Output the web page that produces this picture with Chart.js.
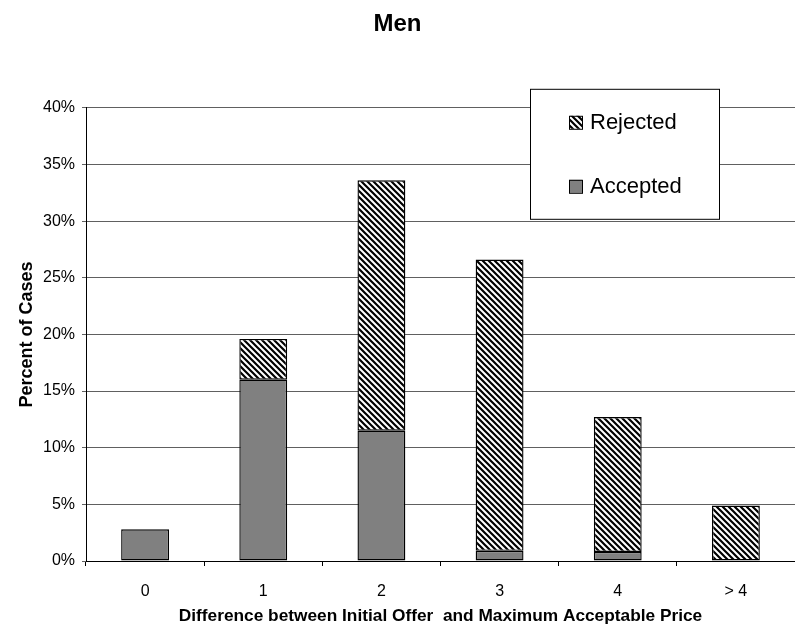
<!DOCTYPE html>
<html>
<head>
<meta charset="utf-8">
<script src="https://cdn.jsdelivr.net/npm/chart.js@4.4.0/dist/chart.umd.min.js"></script>
<style>
  html, body { margin: 0; padding: 0; background: #fff; overflow: hidden; }
  #wrap { width: 795px; height: 639px; }
</style>
</head>
<body>
<div id="wrap"><canvas id="chart" width="795" height="639"></canvas></div>
<script>
// categorias do eixo x e valores (em %) de cada serie
const categories = ['0', '1', '2', '3', '4', '> 4'];
const accepted = [2.8, 16.0, 11.5, 0.9, 0.8, null];
const rejected = [null, 3.6, 22.1, 25.7, 11.9, 4.9];
const yTicks = [0, 5, 10, 15, 20, 25, 30, 35, 40];

const sans = "'Liberation Sans', Arial, sans-serif";

// listras diagonais pretas e brancas para a serie "Rejected"
function makeHatch() {
    const size = 6;
    const c = document.createElement('canvas');
    c.width = size;
    c.height = size;
    const g = c.getContext('2d');
    g.fillStyle = '#fff';
    g.fillRect(0, 0, size, size);
    g.strokeStyle = '#000';
    g.lineWidth = 2.2;
    g.beginPath();
    g.moveTo(-1, -1); g.lineTo(size + 1, size + 1);
    g.moveTo(-1, size - 1); g.lineTo(1, size + 1);
    g.moveTo(size - 1, -1); g.lineTo(size + 1, 1);
    g.stroke();
    return g.createPattern(c, 'repeat');
}
const hatch = makeHatch();

// legenda desenhada a mao, dentro da area do grafico (como no Excel)
const boxLegend = {
    id: 'boxLegend',
    afterDatasetsDraw(chart) {
        const { ctx, chartArea } = chart;
        const x = chartArea.left + 444, y = chartArea.top - 19, w = 189, h = 130;
        ctx.save();
        ctx.fillStyle = '#fff';
        ctx.fillRect(x, y, w, h);
        ctx.strokeStyle = '#000';
        ctx.lineWidth = 1;
        ctx.strokeRect(x + 0.5, y + 0.5, w, h);
        const items = [
            { label: 'Rejected', fill: hatch, cy: y + 33 },
            { label: 'Accepted', fill: '#808080', cy: y + 97 }
        ];
        ctx.font = '22px ' + sans;
        ctx.textBaseline = 'middle';
        items.forEach(it => {
            ctx.fillStyle = it.fill;
            ctx.fillRect(x + 39, it.cy - 6, 13, 13);
            ctx.strokeStyle = '#000';
            ctx.strokeRect(x + 39.5, it.cy - 5.5, 13, 13);
            ctx.fillStyle = '#000';
            ctx.fillText(it.label, x + 60, it.cy + 1);
        });
        ctx.restore();
    }
};

new Chart(document.getElementById('chart'), {
    type: 'bar',
    data: {
        labels: categories,
        datasets: [
            { label: 'Accepted', data: accepted, backgroundColor: '#808080' },
            { label: 'Rejected', data: rejected, backgroundColor: hatch }
        ]
    },
    options: {
        responsive: false,
        animation: false,
        layout: { padding: { left: 0, right: 0, top: 0, bottom: 12 } },
        datasets: {
            bar: {
                borderColor: '#000',
                borderWidth: 1.4,
                borderSkipped: false,
                barPercentage: 0.405,
                categoryPercentage: 1
            }
        },
        plugins: {
            legend: { display: false },
            tooltip: { enabled: false },
            title: {
                display: true,
                text: 'Men',
                color: '#000',
                font: { family: sans, size: 24, weight: 'bold' },
                padding: { top: 10, bottom: 69 }
            }
        },
        scales: {
            x: {
                stacked: true,
                afterFit: s => { s.height = 66; },
                border: { color: '#000', width: 1 },
                grid: { display: true, drawOnChartArea: false, offset: true, tickLength: 5, color: '#000' },
                ticks: { color: '#000', padding: 16, font: { family: sans, size: 16 } },
                title: {
                    display: true,
                    text: 'Difference between Initial Offer  and Maximum Acceptable Price',
                    color: '#000',
                    font: { family: sans, size: 17.3, weight: 'bold' },
                    padding: { top: 4, bottom: 0 }
                }
            },
            y: {
                stacked: true,
                min: 0,
                max: 40,
                afterFit: s => { s.width = 86; },
                afterBuildTicks: s => { s.ticks = yTicks.map(v => ({ value: v })); },
                border: { color: '#000', width: 1 },
                grid: { color: '#606060', lineWidth: 1, tickLength: 4 },
                ticks: { color: '#000', padding: 7, font: { family: sans, size: 16 }, callback: v => v + '%' },
                title: {
                    display: true,
                    text: 'Percent of Cases',
                    color: '#000',
                    font: { family: sans, size: 18, weight: 'bold' },
                    padding: { top: 16, bottom: 0 }
                }
            }
        }
    },
    plugins: [boxLegend]
});
</script>
</body>
</html>
